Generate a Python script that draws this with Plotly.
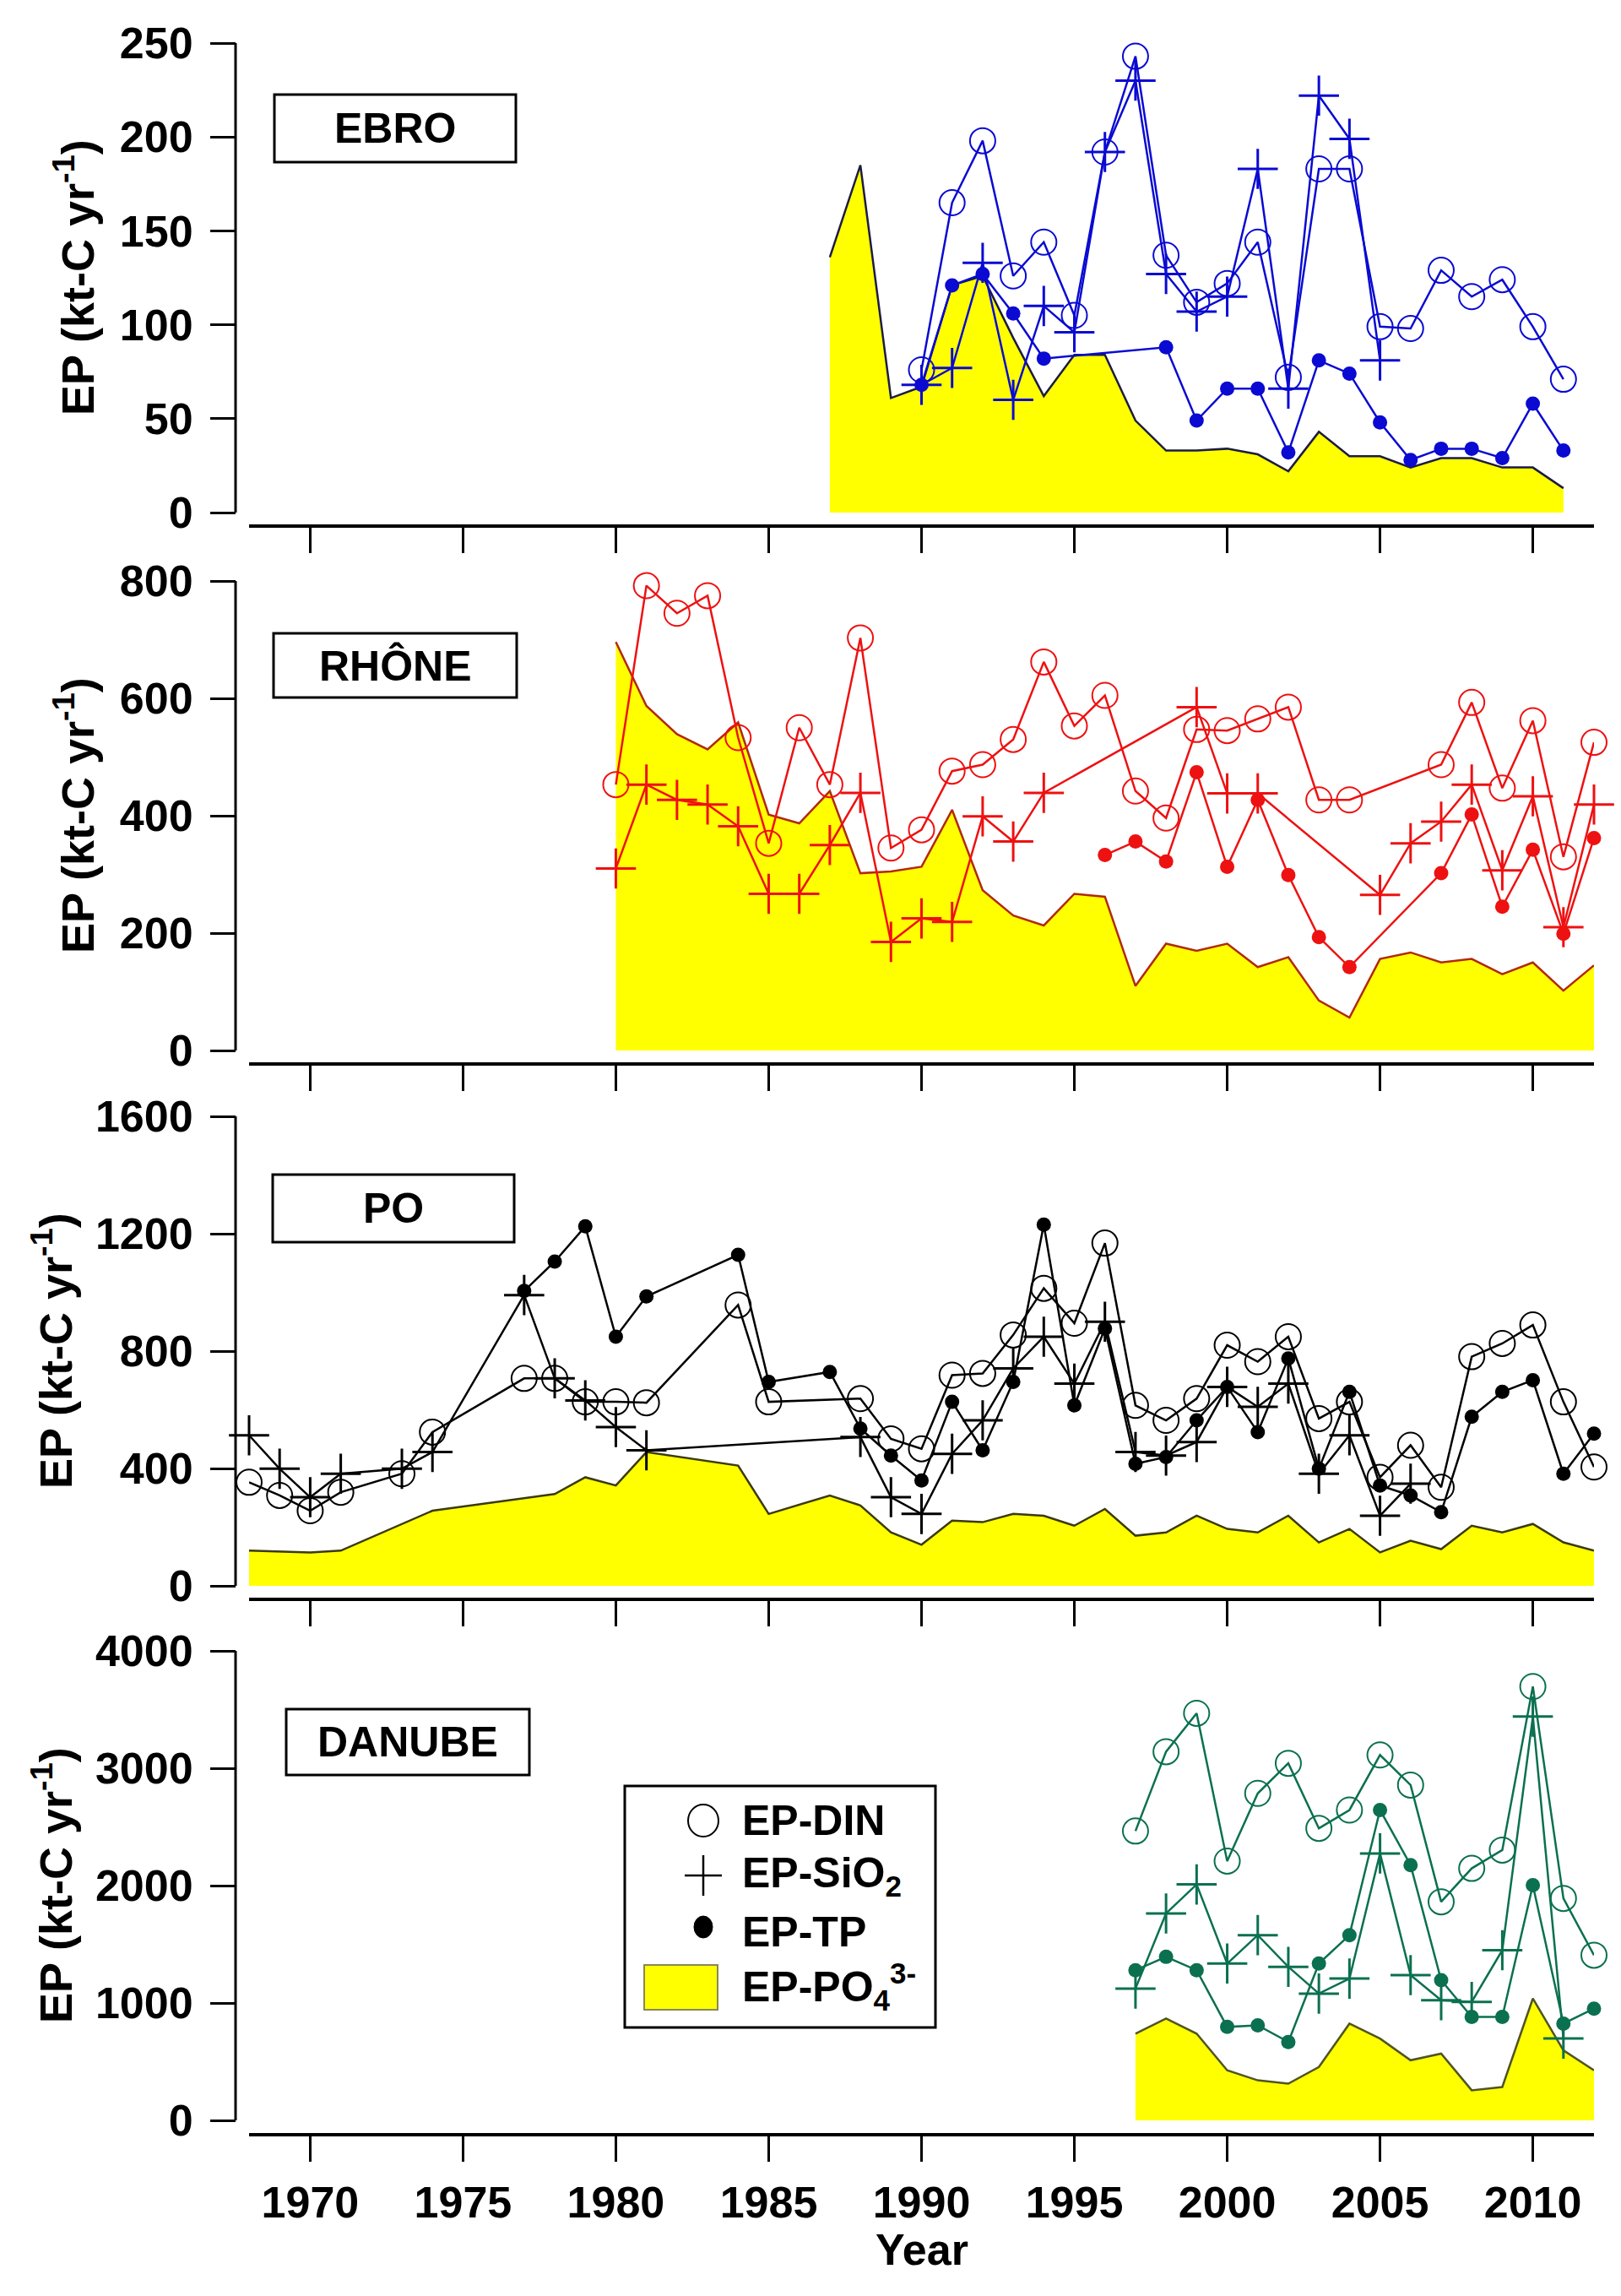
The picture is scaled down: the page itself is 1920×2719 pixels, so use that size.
import plotly.graph_objects as go

W, H = 1920, 2719
FONT = "Liberation Sans, Arial, sans-serif"

YEAR_TICKS = [1970, 1975, 1980, 1985, 1990, 1995, 2000, 2005, 2010]

# ---------------- EBRO ----------------
EBRO_PO4_YEARS = list(range(1987, 2012))
EBRO_PO4 = [136, 185, 61, 67, 121, 126, 93, 62, 84, 84, 49, 33, 33, 34, 31, 22, 43, 30, 30, 24, 29, 29, 24, 24, 13]
EBRO_DIN_YEARS = list(range(1990, 2012))
EBRO_DIN = [76, 165, 198, 126, 144, 105, 192, 243, 137, 112, 122, 144, 72, 183, 183, 99, 98, 129, 115, 124, 99, 71]
EBRO_SIO2_YEARS = list(range(1990, 2006))
EBRO_SIO2 = [68, 77, 133, 60, 110, 96, 192, 230, 127, 107, 115, 183, 66, 222, 199, 81]
EBRO_TP_YEARS = [1990, 1991, 1992, 1993, 1994, 1998, 1999, 2000, 2001, 2002, 2003, 2004, 2005, 2006, 2007, 2008, 2009, 2010, 2011]
EBRO_TP = [68, 121, 127, 106, 82, 88, 49, 66, 66, 32, 81, 74, 48, 28, 34, 34, 29, 58, 33]

# ---------------- RHONE ----------------
RHONE_PO4_YEARS = list(range(1980, 2013))
RHONE_PO4 = [696, 587, 539, 513, 559, 402, 387, 442, 302, 305,
             313, 410, 273, 230, 213, 267, 262, 110, 182, 170,
             182, 142, 159, 85, 56, 156, 167, 150, 156, 130,
             150, 102, 145]
RHONE_DIN_YEARS = list(range(1980, 2005)) + list(range(2007, 2013))
RHONE_DIN = [453, 792, 745, 775, 533, 353, 550, 453, 703, 345,
             376, 476, 487, 530, 662, 553, 605, 442, 396, 547,
             545, 565, 585, 427, 427,
             487, 593, 447, 562, 330, 525]
RHONE_SIO2_YEARS = list(range(1980, 1995)) + [1999, 2000, 2001] + list(range(2005, 2013))
RHONE_SIO2 = [310, 453, 427, 419, 382, 267, 267, 350, 439, 185,
              225, 219, 399, 356, 439,
              585, 438, 438,
              265, 353, 390, 453, 307, 433, 210, 419]
RHONE_TP_YEARS = list(range(1996, 2005)) + list(range(2007, 2013))
RHONE_TP = [333, 356, 322, 474, 313, 427, 299, 193, 142,
            302, 402, 245, 342, 199, 362]

# ---------------- PO ----------------
PO_PO4_YEARS = [1968, 1970, 1971, 1974, 1978, 1979, 1980, 1981, 1984, 1985, 1987, 1988, 1989] + list(range(1990, 2013))
PO_PO4 = [120, 114, 120, 256, 313, 370, 342, 456, 410, 245, 308, 274, 182,
          140, 222, 217, 245, 239, 205, 262, 171, 182, 239,
          194, 182, 239, 148, 194, 114, 154, 125, 205, 182,
          211, 148, 120]
PO_DIN_YEARS = [1968, 1969, 1970, 1971, 1973, 1974, 1977, 1978, 1979, 1980, 1981, 1984, 1985, 1988, 1989] + list(range(1990, 2013))
PO_DIN = [353, 308, 256, 319, 382, 524, 707, 707, 627, 627, 624, 957, 627, 638, 501,
          467, 718, 724, 855, 1014, 895, 1168, 615, 564, 638,
          820, 764, 849, 570, 627, 370, 479, 336, 781, 826,
          889, 627, 405]
PO_SIO2_YEARS = [1968, 1969, 1970, 1971, 1973, 1974, 1977, 1978, 1979, 1980, 1981, 1988, 1989] + list(range(1990, 2007))
PO_SIO2 = [513, 399, 302, 382, 399, 456, 991, 707, 632, 541, 462, 507, 302,
           245, 450, 564, 741, 849, 689, 900, 456, 444, 490,
           678, 610, 689, 382, 513, 239, 348]
PO_TP_YEARS = [1977, 1978, 1979, 1980, 1981, 1984, 1985, 1987, 1988, 1989] + list(range(1990, 2013))
PO_TP = [1005, 1105, 1225, 849, 986, 1128, 695, 729, 536, 444,
         359, 627, 462, 695, 1231, 615, 877, 416, 439, 564,
         678, 524, 775, 399, 661, 342, 308, 251, 576, 661,
         701, 382, 519]

# ---------------- DANUBE ----------------
DANUBE_YEARS = list(range(1997, 2013))
DANUBE_PO4 = [739, 867, 739, 426, 341, 313, 455, 824, 697, 512, 569, 256, 284, 1038, 597, 426]
DANUBE_DIN = [2465, 3141, 3468, 2209, 2786, 3042, 2488, 2644, 3113, 2857, 1862, 2147, 2303, 3696, 1891, 1407]
DANUBE_SIO2_YEARS = list(range(1997, 2012))
DANUBE_SIO2 = [1123, 1763, 2010, 1336, 1578, 1308, 1080, 1208, 2274, 1237, 1023, 1009, 1450, 3440, 697]
DANUBE_TP = [1279, 1393, 1279, 796, 810, 668, 1336, 1578, 2644, 2175, 1194, 881, 881, 2004, 824, 952]

# ---------------- layout config ----------------
panels = [
    dict(label="EBRO", color="#0a0ad2", edge="#1c1c44", ymax=250, dtick=50,
         top=51, zero=607, xline=621, box=(325, 112, 611, 192), title_x=88,
         po4=(EBRO_PO4_YEARS, EBRO_PO4), din=(EBRO_DIN_YEARS, EBRO_DIN),
         sio2=(EBRO_SIO2_YEARS, EBRO_SIO2), tp=(EBRO_TP_YEARS, EBRO_TP)),
    dict(label="RHÔNE", color="#ee1111", edge="#b02a10", ymax=800, dtick=200,
         top=688, zero=1244, xline=1258, box=(324, 750, 612, 826), title_x=88,
         po4=(RHONE_PO4_YEARS, RHONE_PO4), din=(RHONE_DIN_YEARS, RHONE_DIN),
         sio2=(RHONE_SIO2_YEARS, RHONE_SIO2), tp=(RHONE_TP_YEARS, RHONE_TP)),
    dict(label="PO", color="#000000", edge="#3a3a10", ymax=1600, dtick=400,
         top=1322, zero=1878, xline=1892, box=(323, 1391, 609, 1471), title_x=62,
         po4=(PO_PO4_YEARS, PO_PO4), din=(PO_DIN_YEARS, PO_DIN),
         sio2=(PO_SIO2_YEARS, PO_SIO2), tp=(PO_TP_YEARS, PO_TP)),
    dict(label="DANUBE", color="#0b7050", edge="#4f5522", ymax=4000, dtick=1000,
         top=1955, zero=2511, xline=2526, box=(339, 2024, 627, 2102), title_x=62,
         po4=(DANUBE_YEARS, DANUBE_PO4), din=(DANUBE_YEARS, DANUBE_DIN),
         sio2=(DANUBE_SIO2_YEARS, DANUBE_SIO2), tp=(DANUBE_YEARS, DANUBE_TP)),
]

X0, X1 = 295, 1888          # x-axis extent (px)
YAX = 279                   # y-axis line position (px)

fig = go.Figure()
layout = dict(width=W, height=H, autosize=False,
              margin=dict(l=0, r=0, t=0, b=0, pad=0, autoexpand=False),
              paper_bgcolor="white", plot_bgcolor="white",
              showlegend=False, font=dict(family=FONT, color="black"))
shapes, annotations = [], []

tickfont = dict(family=FONT, size=52, color="black", weight="bold")

for i, p in enumerate(panels, start=1):
    xs = "" if i == 1 else str(i)
    xref, yref = "x" + xs, "y" + xs
    c = p["color"]
    ymin = -p["ymax"] * (p["xline"] - p["zero"]) / (p["zero"] - p["top"])

    layout["xaxis" + xs] = dict(
        domain=[X0 / W, X1 / W], range=[1968, 2012], anchor=yref,
        showline=True, linewidth=4, linecolor="black", mirror=False,
        ticks="outside", ticklen=30, tickwidth=3, tickcolor="black",
        tickvals=YEAR_TICKS, ticktext=[str(v) for v in YEAR_TICKS],
        showticklabels=(i == 4), tickfont=tickfont, ticklabelstandoff=4,
        showgrid=False, zeroline=False, fixedrange=True, automargin=False)
    layout["yaxis" + xs] = dict(
        domain=[1 - p["xline"] / H, 1 - p["top"] / H],
        range=[ymin, p["ymax"]], anchor="free", position=YAX / W,
        showline=False, ticks="outside", ticklen=30, tickwidth=3, tickcolor="black",
        tickvals=list(range(0, p["ymax"] + 1, p["dtick"])),
        tickfont=tickfont, ticklabelstandoff=10,
        showgrid=False, zeroline=False, fixedrange=True, automargin=False)

    # y axis line from 0 to top tick
    shapes.append(dict(type="line", xref="paper", yref=yref,
                       x0=YAX / W, x1=YAX / W, y0=0, y1=p["ymax"],
                       line=dict(color="black", width=3)))

    # PO4 filled area
    fig.add_trace(go.Scatter(x=p["po4"][0], y=p["po4"][1], mode="lines",
                             fill="tozeroy", fillcolor="#ffff00",
                             line=dict(color=p["edge"], width=2.5),
                             xaxis=xref, yaxis=yref, name="EP-PO4"))
    # DIN
    fig.add_trace(go.Scatter(x=p["din"][0], y=p["din"][1], mode="lines+markers",
                             line=dict(color=c, width=2.5),
                             marker=dict(symbol="circle-open", size=30, color=c,
                                         line=dict(width=2, color=c)),
                             cliponaxis=False, xaxis=xref, yaxis=yref, name="EP-DIN"))
    # SiO2
    fig.add_trace(go.Scatter(x=p["sio2"][0], y=p["sio2"][1], mode="lines+markers",
                             line=dict(color=c, width=2.5),
                             marker=dict(symbol="cross-thin", size=34, color=c,
                                         line=dict(width=3, color=c)),
                             cliponaxis=False, xaxis=xref, yaxis=yref, name="EP-SiO2"))
    # TP
    fig.add_trace(go.Scatter(x=p["tp"][0], y=p["tp"][1], mode="lines+markers",
                             line=dict(color=c, width=2.5),
                             marker=dict(symbol="circle", size=17, color=c),
                             cliponaxis=False, xaxis=xref, yaxis=yref, name="EP-TP"))

    # river label box
    bx0, by0, bx1, by1 = p["box"]
    shapes.append(dict(type="rect", xref="paper", yref="paper",
                       x0=bx0 / W, x1=bx1 / W, y0=1 - by1 / H, y1=1 - by0 / H,
                       line=dict(color="black", width=3), fillcolor="white"))
    annotations.append(dict(text=p["label"], xref="paper", yref="paper",
                            x=(bx0 + bx1) / 2 / W, y=1 - (by0 + by1) / 2 / H,
                            xanchor="center", yanchor="middle", showarrow=False,
                            font=dict(family=FONT, size=50, color="black", weight="bold")))
    # y title
    annotations.append(dict(text="EP (kt-C yr<sup>-1</sup>)", xref="paper", yref="paper",
                            x=p["title_x"] / W, y=1 - (p["top"] + p["zero"]) / 2 / H,
                            xanchor="center", yanchor="middle", textangle=-90,
                            showarrow=False,
                            font=dict(family=FONT, size=54, color="black", weight="bold")))

# x-axis title
annotations.append(dict(text="Year", xref="paper", yref="paper",
                        x=(X0 + X1) / 2 / W, y=1 - 2664 / H,
                        xanchor="center", yanchor="middle", showarrow=False,
                        font=dict(family=FONT, size=52, color="black", weight="bold")))

# ---------------- custom legend (DANUBE panel) ----------------
LEG = (740, 2115, 1108, 2401)
shapes.append(dict(type="rect", xref="paper", yref="paper",
                   x0=LEG[0] / W, x1=LEG[2] / W, y0=1 - LEG[3] / H, y1=1 - LEG[1] / H,
                   line=dict(color="black", width=3), fillcolor="white"))
SYMX = 833
rows = [2156, 2221, 2288, 2352]
legend_texts = ["EP-DIN", "EP-SiO<sub>2</sub>", "EP-TP", "EP-PO<sub>4</sub><sup>3-</sup>"]


def pix_shape(kind, cx, cy, dx0, dx1, dy0, dy1, **kw):
    d = dict(type=kind, xref="paper", yref="paper",
             xsizemode="pixel", ysizemode="pixel",
             xanchor=cx / W, yanchor=1 - cy / H,
             x0=dx0, x1=dx1, y0=dy0, y1=dy1)
    d.update(kw)
    return d


shapes.append(pix_shape("circle", SYMX, rows[0], -18, 18, -19, 19,
                        line=dict(color="black", width=2)))
shapes.append(pix_shape("line", SYMX, rows[1], -22, 22, 0, 0,
                        line=dict(color="black", width=2.5)))
shapes.append(pix_shape("line", SYMX, rows[1], 0, 0, -24, 24,
                        line=dict(color="black", width=2.5)))
shapes.append(pix_shape("circle", SYMX, rows[2] - 6, -11, 11, -13, 13,
                        line=dict(color="black", width=1), fillcolor="black"))
shapes.append(dict(type="rect", xref="paper", yref="paper",
                   x0=763 / W, x1=850 / W, y0=1 - 2380 / H, y1=1 - 2327 / H,
                   line=dict(color="#888855", width=2), fillcolor="#ffff00"))
for t, ry in zip(legend_texts, rows):
    annotations.append(dict(text=t, xref="paper", yref="paper",
                            x=877 / W, y=1 - ry / H, xanchor="left", yanchor="middle",
                            showarrow=False,
                            font=dict(family=FONT, size=50, color="black", weight="bold")))

layout["shapes"] = shapes
layout["annotations"] = annotations
fig.update_layout(**layout)
fig.write_html("out.html", config={"displayModeBar": False},
               post_script="document.body.style.margin='0';document.body.style.overflow='hidden';")
